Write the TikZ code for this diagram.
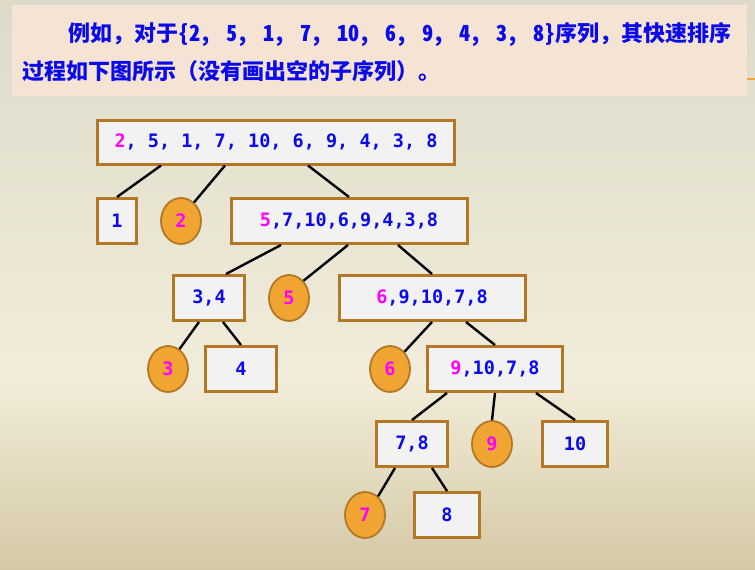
\documentclass[tikz,border=0pt]{standalone}
\usepackage{fontspec}
\setmonofont{DejaVu Sans Mono}
\newfontfamily\cjk{Noto Sans CJK SC}
\newfontfamily\cjkhalb[RawFeature=+hwid]{Noto Sans CJK SC}
\definecolor{bgtop}{RGB}{221,218,202}
\definecolor{bglight}{RGB}{242,237,218}
\definecolor{bgbot}{RGB}{213,200,165}
\definecolor{headfill}{RGB}{245,228,211}
\definecolor{rahmen}{RGB}{178,120,38}
\definecolor{kreis}{RGB}{240,164,50}
\definecolor{boxfill}{RGB}{242,242,242}
\definecolor{zahl}{RGB}{10,10,235}
\definecolor{pivot}{RGB}{255,0,255}
\pgfdeclareverticalshading{hintergrund}{100bp}{color(0bp)=(bgbot); color(25bp)=(bgbot); color(41.67bp)=(bglight); color(75bp)=(bgtop); color(100bp)=(bgtop)}
\newcommand{\pv}[1]{\textcolor{pivot}{#1}}
\tikzset{
	seq/.style={draw=rahmen, line width=3pt, fill=boxfill, inner sep=0pt, text=zahl,
		font=\ttfamily\bfseries\fontsize{18.5}{20}\selectfont},
	piv/.style={ellipse, draw=rahmen, line width=1.8pt, fill=kreis, inner sep=0pt,
		minimum width=40pt, minimum height=46pt, text=pivot,
		font=\ttfamily\bfseries\fontsize{18.5}{20}\selectfont},
	kante/.style={line width=2.4pt, black},
	kopf/.style={anchor=base west, inner sep=0pt, text=zahl, font=\cjk\bfseries\fontsize{22}{24}\selectfont}
}
\usetikzlibrary{shapes.geometric}
\begin{document}
\begin{tikzpicture}[x=1pt, y=-1pt]
% Hintergrund:
	\useasboundingbox (0,0) rectangle (755,570);
	\shade [shading=hintergrund] (0,0) rectangle (755,570);
	\fill [headfill] (12,5) rectangle (747,96);
	\draw [kreis, line width=2pt] (747,79) -- (755,79);
	\node [kopf] (zeile1) at (68,41) {例如，对于{\cjkhalb\bfseries\spaceskip=15pt\{2, 5, 1, 7, 10, 6, 9, 4, 3, 8\}}序列，其快速排序};
	\node [kopf] (zeile2) at (22,79) {过程如下图所示（没有画出空的子序列）。};
% Knoten:
	% Ebene 0
	\node [seq, minimum width=357pt, minimum height=44pt] (wurzel) at (276,142) {\pv{2}, 5, 1, 7, 10, 6, 9, 4, 3, 8};
	% Ebene 1
	\node [seq, minimum width=39pt, minimum height=45pt] (n1) at (117,221) {1};
	\node [piv] (p2) at (181,221) {2};
	\node [seq, minimum width=236pt, minimum height=45pt] (n5) at (349,221) {\pv{5},7,10,6,9,4,3,8};
	% Ebene 2
	\node [seq, minimum width=71pt, minimum height=45pt] (n34) at (209,298) {3,4};
	\node [piv] (p5) at (289,298) {5};
	\node [seq, minimum width=186pt, minimum height=45pt] (n6) at (432,298) {\pv{6},9,10,7,8};
	% Ebene 3
	\node [piv] (p3) at (168,369) {3};
	\node [seq, minimum width=71pt, minimum height=45pt] (n4) at (241,369) {4};
	\node [piv] (p6) at (390,369) {6};
	\node [seq, minimum width=135pt, minimum height=45pt] (n9) at (495,369) {\pv{9},10,7,8};
	% Ebene 4
	\node [seq, minimum width=71pt, minimum height=45pt] (n78) at (412,444) {7,8};
	\node [piv] (p9) at (492,444) {9};
	\node [seq, minimum width=65pt, minimum height=45pt] (n10) at (575,444) {10};
	% Ebene 5
	\node [piv] (p7) at (365,515) {7};
	\node [seq, minimum width=65pt, minimum height=45pt] (n8) at (447,515) {8};
% Kanten:
	\draw [kante] ([xshift=-115pt]wurzel.south) -- (n1.north);
	\draw [kante] ([xshift=-51pt]wurzel.south) -- (p2.55);
	\draw [kante] ([xshift=32pt]wurzel.south) -- (n5.north);
	\draw [kante] ([xshift=-68pt]n5.south) -- ([xshift=17pt]n34.north);
	\draw [kante] ([xshift=-1pt]n5.south) -- (p5.50);
	\draw [kante] ([xshift=49pt]n5.south) -- (n6.north);
	\draw [kante] ([xshift=-10pt]n34.south) -- (p3.60);
	\draw [kante] ([xshift=14pt]n34.south) -- (n4.north);
	\draw [kante] (n6.south) -- (p6.50);
	\draw [kante] ([xshift=34pt]n6.south) -- (n9.north);
	\draw [kante] ([xshift=-48pt]n9.south) -- (n78.north);
	\draw [kante] (n9.south) -- (p9.north);
	\draw [kante] ([xshift=41pt]n9.south) -- (n10.north);
	\draw [kante] ([xshift=-17pt]n78.south) -- (p7.55);
	\draw [kante] ([xshift=20pt]n78.south) -- (n8.north);
\end{tikzpicture}
\end{document}
